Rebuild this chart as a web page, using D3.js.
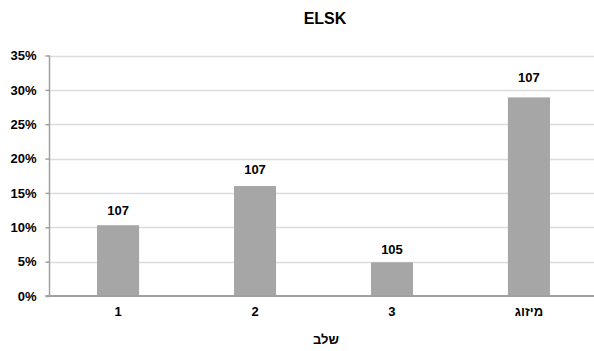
<!DOCTYPE html>
<html>
<head>
<meta charset="utf-8">
<script src="https://cdn.jsdelivr.net/npm/d3@7"></script>
<style>
  html, body { margin: 0; padding: 0; background: #fff; }
  svg { display: block; font-family: "Liberation Sans", Arial, sans-serif; }
</style>
</head>
<body>
<svg id="chart" width="594" height="351"></svg>
<script>
// Share of each stage (fraction), with sample size shown above each bar
const categories = ["1", "2", "3", "מיזוג"];
const shares = [0.103, 0.160, 0.049, 0.289];
const counts = [107, 107, 105, 107];
const yTicks = [0, 0.05, 0.10, 0.15, 0.20, 0.25, 0.30, 0.35];
const chartTitle = "ELSK";
const xTitle = "שלב";

const svg = d3.select("#chart");
const W = 594;
const margin = { left: 49.5, right: -3.5, top: 55.5, bottom: 55 };
const x0 = margin.left, x1 = W - margin.right;
const yTop = margin.top, yBot = 296;
const labelFont = 13;

const x = d3.scaleBand().domain(categories).range([x0, x1]).paddingInner(0.693).paddingOuter(0.347);
const y = d3.scaleLinear().domain([0, 0.35]).range([yBot, yTop]);

// gridlines
svg.append("g").selectAll("line").data(yTicks.filter(d => d > 0)).join("line")
  .attr("x1", x0).attr("x2", W)
  .attr("y1", d => Math.round(y(d)) + 0.5).attr("y2", d => Math.round(y(d)) + 0.5)
  .attr("stroke", "#dcdcdc").attr("stroke-width", 1.5);

// bars
svg.append("g").selectAll("rect").data(categories).join("rect")
  .attr("x", d => x(d)).attr("width", x.bandwidth())
  .attr("y", (d, i) => y(shares[i])).attr("height", (d, i) => yBot - y(shares[i]))
  .attr("fill", "#a6a6a6");

// value labels: the gap above a bar grows slightly with its height
svg.append("g").selectAll("text").data(categories).join("text")
  .attr("x", d => x(d) + x.bandwidth() / 2)
  .attr("y", (d, i) => {
    const top = y(shares[i]);
    return top - (6.5 + 0.047 * (yBot - top));
  })
  .attr("text-anchor", "middle")
  .attr("font-size", labelFont).attr("font-weight", "bold").attr("fill", "#000")
  .text((d, i) => counts[i]);

// y axis
const yAxis = d3.axisLeft(y).tickValues(yTicks).tickFormat(d3.format(".0%")).tickSize(4).tickPadding(9);
const gy = svg.append("g").attr("transform", `translate(${x0},0)`).call(yAxis);
gy.select(".domain").attr("stroke", "#a0a0a0").attr("stroke-width", 1.5).attr("d", `M0,${yTop}V${yBot}`);
gy.selectAll(".tick line").attr("stroke", "#a0a0a0").attr("stroke-width", 1.5);
gy.selectAll(".tick text").attr("font-size", labelFont).attr("font-weight", "bold").attr("fill", "#000")
  .attr("font-family", "Liberation Sans, Arial, sans-serif");

// x axis
const xAxis = d3.axisBottom(x).tickSize(0).tickPadding(11);
const gx = svg.append("g").attr("transform", `translate(0,${yBot})`).call(xAxis);
gx.select(".domain").attr("stroke", "#a0a0a0").attr("stroke-width", 2).attr("d", `M${x0 - 4},0H${W}`);
gx.selectAll(".tick text").attr("font-size", labelFont).attr("font-weight", "bold").attr("fill", "#000")
  .attr("font-family", "Liberation Sans, Arial, sans-serif");

// titles
svg.append("text").attr("x", 325).attr("y", 24).attr("text-anchor", "middle")
  .attr("font-size", 16).attr("font-weight", "bold").text(chartTitle);
svg.append("text").attr("x", 326).attr("y", 344).attr("text-anchor", "middle")
  .attr("font-size", labelFont).attr("font-weight", "bold").attr("direction", "rtl").text(xTitle);
</script>
</body>
</html>
